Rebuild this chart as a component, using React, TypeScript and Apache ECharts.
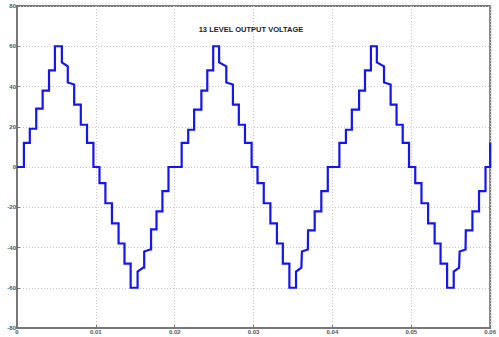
import React, { useEffect, useRef } from "react";
import * as echarts from "echarts";

const titleText = "13 LEVEL OUTPUT VOLTAGE";
const xTicks = ["0", "0.01", "0.02", "0.03", "0.04", "0.05", "0.06"];
const yTicks = [-80, -60, -40, -20, 0, 20, 40, 60, 80];

// vertices of the output voltage trace: time (s) and voltage
const cycle1Time = [0, 0.000875, 0.000875, 0.001625, 0.001625, 0.00244, 0.00244, 0.00325, 0.00325, 0.00406, 0.00406, 0.00481, 0.00481, 0.00569, 0.00569, 0.00644, 0.00644, 0.00725, 0.00725, 0.00809, 0.00809, 0.00888, 0.00888, 0.00969, 0.00969, 0.01046, 0.01046, 0.01121, 0.01121, 0.01204, 0.01204, 0.01288, 0.01288, 0.01363, 0.01363, 0.01441, 0.01441, 0.01529, 0.01529, 0.016, 0.01613, 0.01613, 0.01688, 0.017, 0.017, 0.01769, 0.01769, 0.01844, 0.01844, 0.01921, 0.01921];
const cycle1Volt = [0, 0, 12, 12, 19, 19, 29, 29, 38, 38, 48, 48, 60, 60, 52, 50, 42, 41, 31, 31, 21, 21, 12, 12, 0, 0, -8, -8, -18, -18, -28, -28, -38, -38, -48, -48, -60, -60, -52, -50, -50, -42, -41, -41, -31, -31, -22, -22, -12, -12, 0];

const cycle2Time = [0.02088, 0.02088, 0.02171, 0.02171, 0.02246, 0.02246, 0.02338, 0.02338, 0.02413, 0.02413, 0.02488, 0.02488, 0.02563, 0.02563, 0.02654, 0.02654, 0.02738, 0.02738, 0.02813, 0.02813, 0.02891, 0.02891, 0.02975, 0.02975, 0.0305, 0.0305, 0.03129, 0.03129, 0.03213, 0.03213, 0.03296, 0.03296, 0.03371, 0.03371, 0.03454, 0.03454, 0.03538, 0.03538, 0.03606, 0.03613, 0.03613, 0.03688, 0.03691, 0.03691, 0.03775, 0.03775, 0.03859, 0.03859, 0.03941, 0.03941];
const cycle2Volt = [0, 12, 12, 18.5, 18.5, 28.5, 28.5, 38, 38, 48, 48, 60, 60, 52, 50, 42, 41, 31, 31, 21, 21, 12, 12, 0, 0, -8, -8, -18, -18, -28, -28, -38, -38, -48, -48, -60, -60, -52, -50, -50, -42, -41, -41, -31.5, -31.5, -22, -22, -12, -12, 0];

const cycle3Time = [0.04088, 0.04088, 0.04171, 0.04171, 0.04246, 0.04246, 0.04338, 0.04338, 0.04413, 0.04413, 0.04488, 0.04488, 0.04563, 0.04563, 0.04654, 0.04654, 0.04738, 0.04738, 0.04813, 0.04813, 0.04891, 0.04891, 0.04971, 0.04971, 0.0505, 0.0505, 0.05129, 0.05129, 0.05213, 0.05213, 0.05296, 0.05296, 0.05371, 0.05371, 0.05454, 0.05454, 0.05538, 0.05538, 0.05606, 0.05613, 0.05613, 0.05688, 0.05691, 0.05691, 0.05775, 0.05775, 0.05859, 0.05859, 0.05941, 0.05941, 0.06, 0.06];
const cycle3Volt = [0, 12, 12, 18.5, 18.5, 28.5, 28.5, 38, 38, 48, 48, 60, 60, 52, 50, 42, 41, 31, 31, 21, 21, 12, 12, 0, 0, -8, -8, -18, -18, -28, -28, -38, -38, -48, -48, -60, -60, -52, -50, -50, -42, -41, -41, -31.5, -31.5, -22, -22, -12, -12, 0, 0, 12];

export default function App() {
  const ref = useRef<HTMLDivElement>(null);
  useEffect(() => {
    if (!ref.current) return;
    const chart = echarts.init(ref.current, null, { renderer: "svg" });
    const times = [...cycle1Time, ...cycle2Time, ...cycle3Time];
    const volts = [...cycle1Volt, ...cycle2Volt, ...cycle3Volt];
    const data = times.map((t, i) => [t, volts[i]]);
    const labelStyle = {
      fontSize: 6,
      fontWeight: "bold" as const,
      color: "#555",
      fontFamily: "Liberation Sans, Arial, sans-serif",
    };
    chart.setOption({
      animation: false,
      backgroundColor: "#ffffff",
      title: {
        text: titleText,
        left: 246,
        top: 20,
        textAlign: "center",
        textStyle: {
          fontSize: 7.5,
          fontWeight: "bold",
          color: "#222",
          fontFamily: "Liberation Sans, Arial, sans-serif",
        },
      },
      grid: {
        left: 17,
        right: 2,
        top: 6,
        bottom: 9,
        show: true,
        borderColor: "#777",
        borderWidth: 2,
        backgroundColor: "transparent",
      },
      xAxis: {
        type: "value",
        min: 0,
        max: 0.06,
        interval: 0.01,
        axisLine: { show: true, onZero: false, lineStyle: { color: "#777", width: 2 } },
        axisTick: { show: true, inside: true, length: 3, lineStyle: { color: "#777" } },
        splitLine: { show: true, lineStyle: { color: "#c8c8c8", type: [1, 2], width: 1 } },
        axisLabel: {
          ...labelStyle,
          margin: 1,
          showMinLabel: true,
          showMaxLabel: true,
          formatter: (v: number) => xTicks[Math.round(v * 100)] ?? "",
        },
      },
      yAxis: {
        type: "value",
        min: -80,
        max: 80,
        interval: 20,
        axisLine: { show: true, onZero: false, lineStyle: { color: "#777", width: 2 } },
        axisTick: { show: true, inside: true, length: 3, lineStyle: { color: "#777" } },
        splitLine: { show: true, lineStyle: { color: "#c8c8c8", type: [1, 2], width: 1 } },
        axisLabel: {
          ...labelStyle,
          margin: 1,
          showMinLabel: true,
          showMaxLabel: true,
          formatter: (v: number) => (yTicks.includes(v) ? String(v) : ""),
        },
      },
      series: [
        {
          type: "line",
          data,
          showSymbol: false,
          symbol: "none",
          lineStyle: { color: "#1515ee", width: 2.2, join: "miter" },
          clip: true,
        },
      ],
    });
    return () => chart.dispose();
  }, []);
  return (
    <div
      ref={ref}
      style={{ position: "fixed", left: 0, top: 0, width: 499, height: 337 }}
    />
  );
}
